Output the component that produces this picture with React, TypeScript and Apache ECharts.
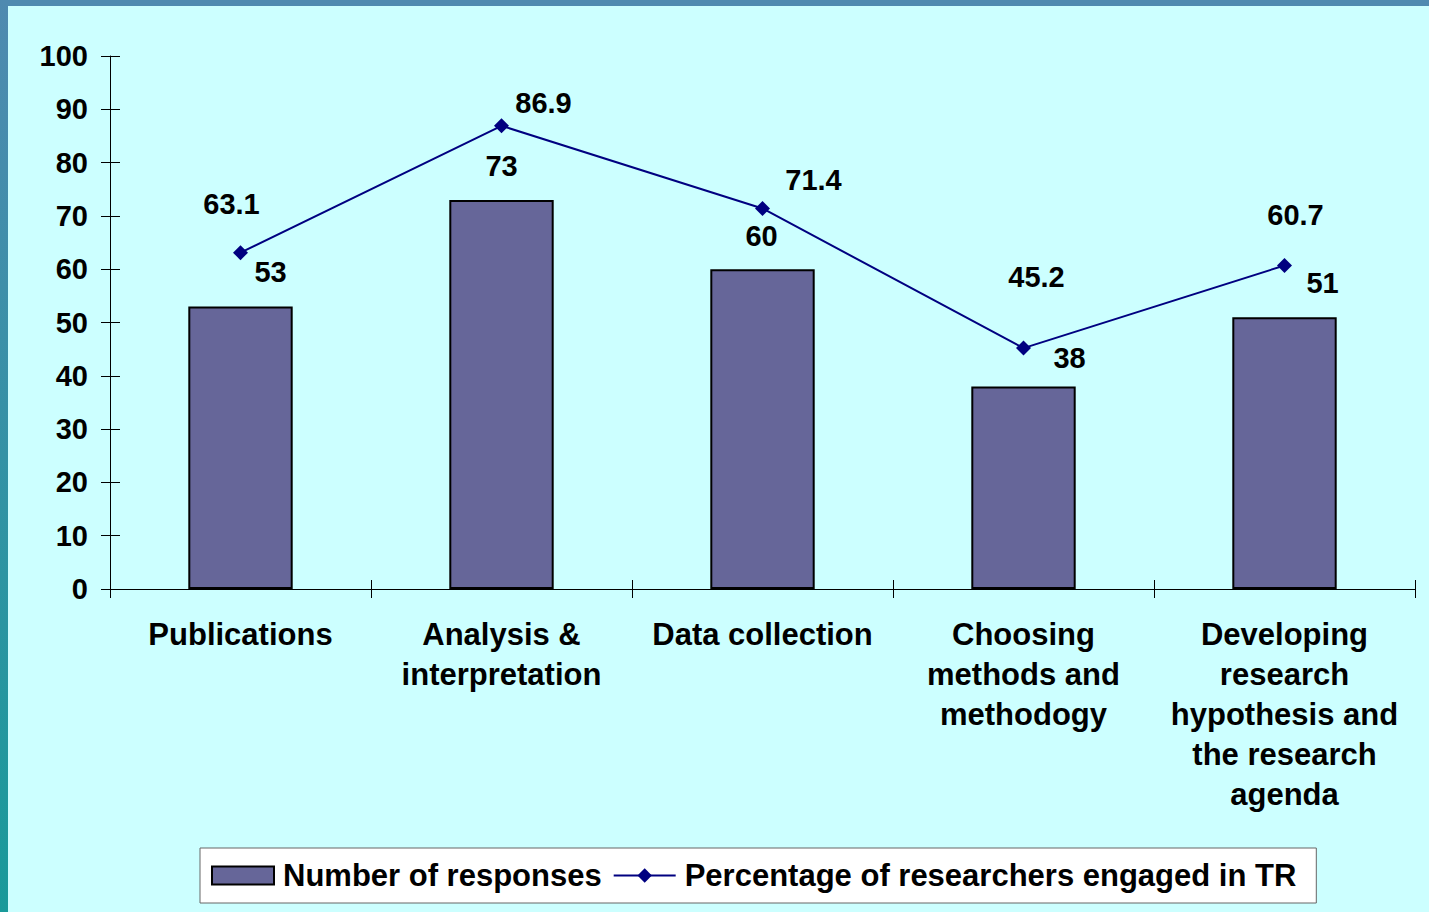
import React, { useEffect, useRef } from "react";
import * as echarts from "echarts";

const categories = [
  "Publications",
  "Analysis &\ninterpretation",
  "Data collection",
  "Choosing\nmethods and\nmethodogy",
  "Developing\nresearch\nhypothesis and\nthe research\nagenda",
];
const responses = [53, 73, 60, 38, 51];
const percentages = [63.1, 86.9, 71.4, 45.2, 60.7];
const yTicks = { min: 0, max: 100, interval: 10 };

// label placement (style only)
const barLabelOffsets = [[30, -15], [0, -14], [-1, -14], [46, -9], [38, -15]];
const lineLabelOffsets = [[-9, -49], [42, -23], [51, -28], [13, -71], [11, -50]];

const FONT = "'Liberation Sans', Arial, sans-serif";

export default function App() {
  const ref = useRef<HTMLDivElement>(null);
  useEffect(() => {
    document.body.style.margin = "0";
    const chart = echarts.init(ref.current!, null, { renderer: "svg" });
    const textStyle = { fontFamily: FONT, fontWeight: "bold", color: "#000" };
    chart.setOption({
      animation: false,
      backgroundColor: "transparent",
      textStyle: { fontFamily: FONT },
      grid: { left: 110, right: 14, top: 56, bottom: 323, containLabel: false },
      legend: {
        left: 200,
        top: 848,
        padding: [12, 20, 12, 11],
        itemGap: 11,
        itemWidth: 62,
        itemHeight: 18,
        backgroundColor: "#ffffff",
        borderColor: "#666666",
        borderWidth: 1,
        textStyle: { ...textStyle, fontSize: 31, padding: [0, 0, 0, 4] },
        data: [
          { name: "Number of responses", icon: "rect" },
          { name: "Percentage of researchers engaged in TR" },
        ],
      },
      xAxis: [
        {
          type: "category",
          data: categories,
          position: "bottom",
          axisLine: { lineStyle: { color: "#000", width: 1 } },
          axisTick: { show: true, length: 9, lineStyle: { color: "#000" } },
          axisLabel: {
            ...textStyle,
            fontSize: 31,
            margin: 25,
            lineHeight: 40,
            interval: 0,
            align: "center",
          },
        },
        {
          type: "category",
          data: categories,
          position: "bottom",
          axisLine: { show: false },
          axisTick: { show: true, inside: true, length: 9, lineStyle: { color: "#000" } },
          axisLabel: { show: false },
        },
      ],
      yAxis: [
        {
          type: "value",
          ...yTicks,
          position: "left",
          axisLine: { show: true, lineStyle: { color: "#000", width: 1 } },
          axisTick: { show: true, length: 9, lineStyle: { color: "#000" } },
          splitLine: { show: false },
          axisLabel: { ...textStyle, fontSize: 29, margin: 22 },
        },
        {
          type: "value",
          ...yTicks,
          position: "left",
          axisLine: { show: false },
          axisTick: { show: true, inside: true, length: 10, lineStyle: { color: "#000" } },
          splitLine: { show: false },
          axisLabel: { show: false },
        },
      ],
      series: [
        {
          name: "Number of responses",
          type: "bar",
          xAxisIndex: 0,
          yAxisIndex: 0,
          barWidth: "40%",
          itemStyle: { color: "#666699", borderColor: "#000", borderWidth: 2 },
          data: responses.map((v, i) => ({
            value: v,
            label: { offset: barLabelOffsets[i] },
          })),
          label: {
            show: true,
            position: "top",
            ...textStyle,
            fontSize: 29,
          },
        },
        {
          name: "Percentage of researchers engaged in TR",
          type: "line",
          xAxisIndex: 0,
          yAxisIndex: 0,
          symbol: "diamond",
          symbolSize: 15,
          lineStyle: { color: "#000080", width: 2 },
          itemStyle: { color: "#000080" },
          data: percentages.map((v, i) => ({
            value: v,
            label: { offset: lineLabelOffsets[i] },
          })),
          label: {
            show: true,
            position: "inside",
            ...textStyle,
            fontSize: 29,
          },
        },
      ],
    });
    return () => chart.dispose();
  }, []);
  return (
    <div
      style={{
        position: "fixed",
        left: 0,
        top: 0,
        width: 1429,
        height: 912,
        background: "#CCFFFF",
        overflow: "hidden",
      }}
    >
      <div
        style={{
          position: "absolute",
          left: 0,
          top: 0,
          width: 1429,
          height: 6,
          background: "#4F8AB0",
        }}
      />
      <div
        style={{
          position: "absolute",
          left: 0,
          top: 0,
          width: 8,
          height: 912,
          background: "linear-gradient(#4F8AB0, #199A9A)",
        }}
      />
      <div ref={ref} style={{ position: "absolute", left: 0, top: 0, width: 1429, height: 912 }} />
    </div>
  );
}
